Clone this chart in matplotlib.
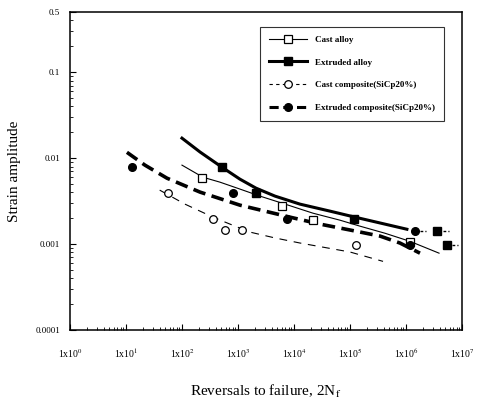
import matplotlib
import numpy as np
from matplotlib import pyplot as plt
from matplotlib.ticker import LogLocator, NullFormatter, FixedLocator

matplotlib.use("Agg")

plt.rcParams["font.family"] = ["Liberation Serif", "DejaVu Serif"]
plt.rcParams["mathtext.fontset"] = "stix"

# measured points (reversals 2Nf, strain amplitude)
cast_alloy_n = [230, 6100, 22000, 1.2e6]
cast_alloy_e = [0.0059, 0.0028, 0.0019, 0.00105]

ext_alloy_n = [515, 2100, 1.2e5]
ext_alloy_e = [0.0079, 0.0039, 0.00195]
ext_alloy_runout_n = [3.6e6, 5.4e6]
ext_alloy_runout_e = [0.00142, 0.00098]

cast_comp_n = [56, 355, 590, 1170, 1.26e5]
cast_comp_e = [0.0039, 0.00195, 0.00145, 0.00145, 0.00098]

ext_comp_n = [13, 815, 7500, 1.2e6]
ext_comp_e = [0.0079, 0.0039, 0.00195, 0.00098]
ext_comp_runout_n = [1.45e6]
ext_comp_runout_e = [0.00142]

# fitted curves
cast_alloy_fit_n = [100, 237, 477, 1085, 2470, 6100, 21900, 66200, 1.5e5, 4.2e5,
                    1.17e6, 3.9e6]
cast_alloy_fit_e = [0.0083, 0.0060, 0.00526, 0.00437, 0.00362, 0.0030, 0.00229,
                    0.0019, 0.00162, 0.00134, 0.00108, 0.000785]

ext_alloy_fit_n = [100, 210, 518, 1085, 2100, 4580, 12800, 44000, 1.23e5, 4.2e5, 1.04e6]
ext_alloy_fit_e = [0.0171, 0.0118, 0.00785, 0.0057, 0.00448, 0.00362, 0.00292,
                   0.00242, 0.00206, 0.00171, 0.00149]

cast_comp_fit_n = [40, 113, 358, 720, 1640, 4580, 12800, 1e5, 3.9e5]
cast_comp_fit_e = [0.00425, 0.00292, 0.00206, 0.00171, 0.00138, 0.00118, 0.00103,
                   0.00081, 0.00063]

ext_comp_fit_n = [10.4, 21.8, 54, 210, 1085, 3035, 8500, 29100, 1e5, 3.45e5, 7.8e5,
                  1.78e6]
ext_comp_fit_e = [0.0117, 0.0083, 0.00585, 0.00403, 0.00284, 0.00242, 0.00206,
                  0.00171, 0.00146, 0.00124, 0.00103, 0.000785]

x_ticks = [10.0 ** k for k in range(8)]
x_labels = [r"1x10$^{%d}$" % k for k in range(8)]
y_ticks = [0.0001, 0.001, 0.01, 0.1, 0.5]
y_labels = ["0.0001", "0.001", "0.01", "0.1", "0.5"]

fig = plt.figure(figsize=(4.78, 4.05), dpi=100)
ax = fig.add_axes([0.1464, 0.185, 0.82, 0.785])
ax.set_xscale("log")
ax.set_yscale("log")
ax.set_xlim(1, 1e7)
ax.set_ylim(1e-4, 0.5)

# fit lines
ax.plot(cast_alloy_fit_n, cast_alloy_fit_e, "-", color="black", lw=0.8)
ax.plot(ext_alloy_fit_n, ext_alloy_fit_e, "-", color="black", lw=2.2,
        solid_joinstyle="round")
ax.plot(cast_comp_fit_n, cast_comp_fit_e, color="black", lw=0.8, dashes=(7, 6))
ax.plot(ext_comp_fit_n, ext_comp_fit_e, color="black", lw=2.6, dashes=(3.5, 1.8))

# markers
ax.plot(cast_alloy_n, cast_alloy_e, "s", ms=5.5, mfc="white", mec="black", mew=0.9)
ax.plot(ext_alloy_n + ext_alloy_runout_n, ext_alloy_e + ext_alloy_runout_e,
        "s", ms=5.5, color="black")
ax.plot(cast_comp_n, cast_comp_e, "o", ms=5.5, mfc="white", mec="black", mew=0.9)
ax.plot(ext_comp_n + ext_comp_runout_n, ext_comp_e + ext_comp_runout_e,
        "o", ms=5.5, color="black")

# run-out marks
for n, e in zip(ext_alloy_runout_n + ext_comp_runout_n,
                ext_alloy_runout_e + ext_comp_runout_e):
    ax.plot([n * 1.25, n * 1.6], [e, e], color="black", lw=1.0, dashes=(2, 1.5))

# legend proxies
h1, = ax.plot([], [], "-s", color="black", lw=0.8, ms=5.5, mfc="white", mew=0.9)
h2, = ax.plot([], [], "-s", color="black", lw=2.2, ms=5.5)
h3, = ax.plot([], [], "o", color="black", lw=0.8, ms=5.5, mfc="white", mew=0.9,
              ls=(0, (3, 3)))
h4, = ax.plot([], [], "o", color="black", lw=2.2, ms=5.5, ls=(0, (3, 1.5)))
leg = ax.legend([h1, h2, h3, h4],
                ["Cast alloy", "Extruded alloy", "Cast composite(SiCp20%)",
                 "Extruded composite(SiCp20%)"],
                loc="upper right", bbox_to_anchor=(0.966, 0.969),
                prop={"size": 6.5, "weight": "bold"}, frameon=True, fancybox=False,
                edgecolor="black", handlelength=4.2, labelspacing=1.6,
                borderpad=1.0, handletextpad=0.9)
leg.get_frame().set_linewidth(0.8)

ax.xaxis.set_major_locator(FixedLocator(x_ticks))
ax.set_xticklabels(x_labels)
ax.xaxis.set_minor_locator(LogLocator(base=10, subs=np.arange(2, 10)))
ax.xaxis.set_minor_formatter(NullFormatter())
ax.yaxis.set_major_locator(FixedLocator(y_ticks))
ax.set_yticklabels(y_labels)
ax.yaxis.set_minor_locator(LogLocator(base=10, subs=np.arange(2, 10)))
ax.yaxis.set_minor_formatter(NullFormatter())

ax.tick_params(axis="both", which="both", direction="in")
ax.tick_params(axis="x", which="major", length=4, labelsize=7, pad=12)
ax.tick_params(axis="y", which="major", length=4, labelsize=6.5, pad=7)
ax.tick_params(which="minor", length=2.5)
for s in ax.spines.values():
    s.set_linewidth(1.1)

ax.set_ylabel("Strain amplitude", fontsize=11)
ax.yaxis.set_label_coords(-0.125, 0.5)
ax.set_xlabel(r"Reversals to failure, 2N$_\mathrm{f}$", fontsize=11)
ax.xaxis.set_label_coords(0.5, -0.165)

fig.savefig("out.png", dpi=100)
